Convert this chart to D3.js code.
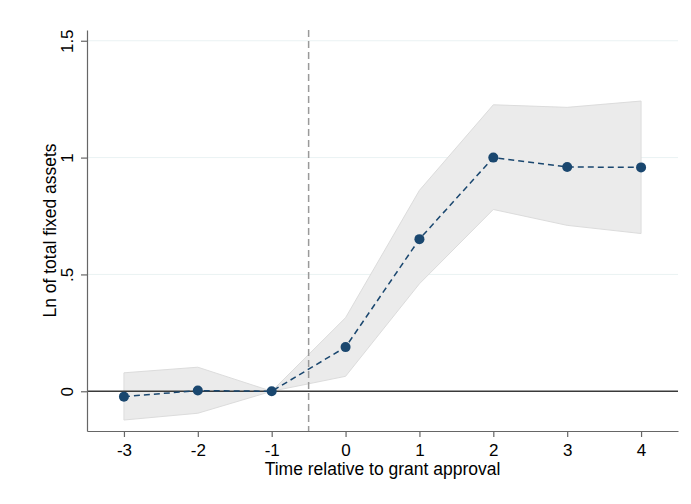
<!DOCTYPE html>
<html>
<head>
<meta charset="utf-8">
<script src="https://cdn.jsdelivr.net/npm/d3@7"></script>
<style>
  body { margin: 0; background: #fff; }
  text { font-family: "Liberation Sans", Arial, sans-serif; fill: #000; }
</style>
</head>
<body>
<div id="chart"></div>
<script>
var periods = [-3, -2, -1, 0, 1, 2, 3, 4];
var estimates = [-0.023, 0.003, 0, 0.189, 0.651, 1.0, 0.96, 0.958];
var ciUpper = [0.079, 0.103, 0, 0.315, 0.86, 1.226, 1.215, 1.242];
var ciLower = [-0.123, -0.094, 0, 0.064, 0.46, 0.778, 0.71, 0.675];
var xTicks = [-3, -2, -1, 0, 1, 2, 3, 4];
var xTickLabels = ["-3", "-2", "-1", "0", "1", "2", "3", "4"];
var yTicks = [0, 0.5, 1, 1.5];
var yTickLabels = ["0", ".5", "1", "1.5"];
var eventLine = -0.5;

var w = 691, h = 504;
var margin = {top: 30, right: 13, bottom: 73, left: 87};

var data = periods.map((p, i) => ({t: p, b: estimates[i], hi: ciUpper[i], lo: ciLower[i]}));

var svg = d3.select("#chart").append("svg")
  .attr("width", w)
  .attr("height", h);

var xScale = d3.scaleLinear()
  .domain([-3.5, 4.5])
  .range([margin.left, w - margin.right]);
var yScale = d3.scaleLinear()
  .domain([-0.17, 1.546])
  .range([h - margin.bottom, margin.top]);

// grid lines
svg.append("g")
  .selectAll("line")
  .data(yTicks.filter(d => d !== 0))
  .enter().append("line")
    .attr("x1", margin.left)
    .attr("x2", w - margin.right)
    .attr("y1", d => yScale(d))
    .attr("y2", d => yScale(d))
    .attr("stroke", "#eaf2f3")
    .attr("stroke-width", 1);

// confidence band
var area = d3.area()
  .x(d => xScale(d.t))
  .y0(d => yScale(d.lo))
  .y1(d => yScale(d.hi));
svg.append("path")
  .datum(data)
  .attr("d", area)
  .attr("fill", "#ebebeb")
  .attr("stroke", "#dcdcdc")
  .attr("stroke-width", 1);

// zero line
svg.append("line")
  .attr("x1", margin.left)
  .attr("x2", w - margin.right)
  .attr("y1", yScale(0))
  .attr("y2", yScale(0))
  .attr("stroke", "#3a3a3a")
  .attr("stroke-width", 1.6);

// event line
svg.append("line")
  .attr("x1", xScale(eventLine))
  .attr("x2", xScale(eventLine))
  .attr("y1", margin.top)
  .attr("y2", h - margin.bottom)
  .attr("stroke", "#9a9a9a")
  .attr("stroke-width", 1.5)
  .attr("stroke-dasharray", "7,4");

// estimate line
var line = d3.line()
  .x(d => xScale(d.t))
  .y(d => yScale(d.b));
svg.append("path")
  .datum(data)
  .attr("d", line)
  .attr("fill", "none")
  .attr("stroke", "#1a476f")
  .attr("stroke-width", 1.5)
  .attr("stroke-dasharray", "6,4");

svg.append("g")
  .selectAll("circle")
  .data(data)
  .enter().append("circle")
    .attr("cx", d => xScale(d.t))
    .attr("cy", d => yScale(d.b))
    .attr("r", 5)
    .attr("fill", "#1a476f");

// axes
var xAxis = g => g
  .attr("transform", `translate(0, ${h - margin.bottom})`)
  .call(d3.axisBottom(xScale).tickValues(xTicks).tickFormat((d, i) => xTickLabels[i]).tickSize(6).tickPadding(6).tickSizeOuter(0));
var yAxis = g => g
  .attr("transform", `translate(${margin.left}, 0)`)
  .call(d3.axisLeft(yScale).tickValues(yTicks).tickFormat((d, i) => yTickLabels[i]).tickSize(6).tickSizeOuter(0));

var gx = svg.append("g").call(xAxis);
var gy = svg.append("g").call(yAxis);

[gx, gy].forEach(g => {
  g.select(".domain").attr("stroke", "#666").attr("stroke-width", 1.2);
  g.selectAll(".tick line").attr("stroke", "#666").attr("stroke-width", 1.2);
  g.selectAll(".tick text")
    .style("font-family", "'Liberation Sans', Arial, sans-serif")
    .style("font-size", "17px")
    .attr("fill", "#000");
});
gx.selectAll(".tick text").attr("dy", "0.75em");

// rotated y tick labels
gy.selectAll(".tick text")
  .attr("x", null)
  .attr("dy", null)
  .attr("text-anchor", "middle")
  .attr("transform", "translate(-14,0) rotate(-90)");

// axis titles
svg.append("text")
  .attr("x", (margin.left + w - margin.right) / 2)
  .attr("y", 475)
  .attr("text-anchor", "middle")
  .style("font-size", "17.5px")
  .text("Time relative to grant approval");

svg.append("text")
  .attr("transform", `translate(56, ${(margin.top + h - margin.bottom) / 2}) rotate(-90)`)
  .attr("text-anchor", "middle")
  .style("font-size", "17.5px")
  .text("Ln of total fixed assets");
</script>
</body>
</html>
